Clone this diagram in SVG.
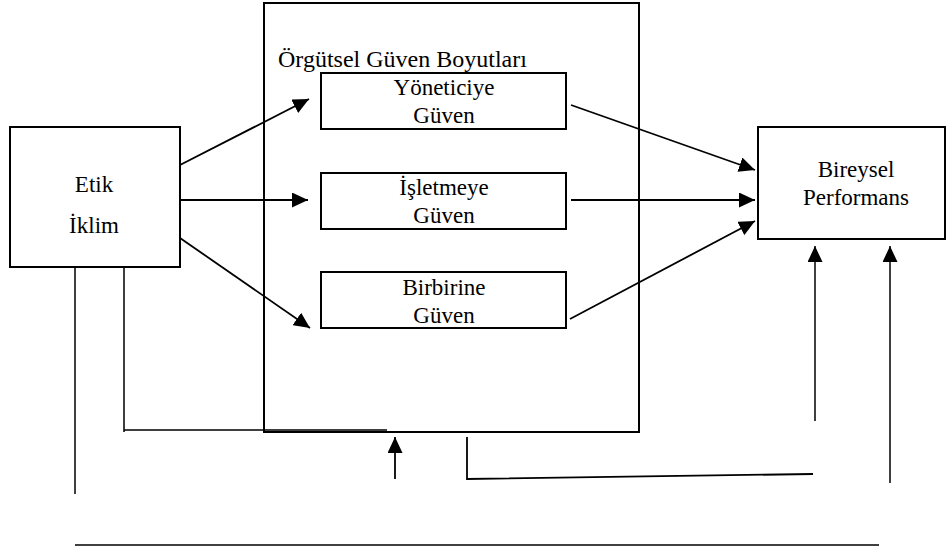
<svg xmlns="http://www.w3.org/2000/svg" width="946" height="549" viewBox="0 0 946 549">
<style>
.box{fill:#fff;stroke:#000;stroke-width:2}
.frame{fill:none;stroke:#000;stroke-width:2}
.ln{fill:none;stroke:#000;stroke-width:1.8}
.thin{fill:none;stroke:#000;stroke-width:1.5}
.t{font-family:'Liberation Serif','Times New Roman',serif;font-size:23px;fill:#000}
.c{text-anchor:middle}
</style>
<defs>
<marker id="ah" markerUnits="userSpaceOnUse" markerWidth="16" markerHeight="15" refX="16" refY="7.5" orient="auto">
<path d="M0,0 L16,7.5 L0,15 z" fill="#000"/>
</marker>
</defs>
<rect width="946" height="549" fill="#fff"/>
<g id="orgutsel-guven" font-family="Liberation Serif, serif">
<rect class="frame" x="264" y="3" width="375" height="429"/>
<text class="t" x="278" y="67" font-family="Liberation Serif, serif" style="font-size:24px">Örgütsel Güven Boyutları</text>
</g>
<g id="etik-iklim" font-family="Liberation Serif, serif">
<rect class="box" x="10" y="127" width="170" height="140"/>
<text class="t c" x="94" y="192" font-family="Liberation Serif, serif">Etik</text>
<text class="t c" x="94" y="233" font-family="Liberation Serif, serif">İklim</text>
</g>
<g id="yoneticiye" font-family="Liberation Serif, serif">
<rect class="box" x="321" y="73" width="245" height="56"/>
<text class="t c" x="444" y="95" font-family="Liberation Serif, serif">Yöneticiye</text>
<text class="t c" x="444" y="123" font-family="Liberation Serif, serif">Güven</text>
</g>
<g id="isletmeye" font-family="Liberation Serif, serif">
<rect class="box" x="321" y="173" width="245" height="56"/>
<text class="t c" x="444" y="195" font-family="Liberation Serif, serif">İşletmeye</text>
<text class="t c" x="444" y="223" font-family="Liberation Serif, serif">Güven</text>
</g>
<g id="birbirine" font-family="Liberation Serif, serif">
<rect class="box" x="321" y="272" width="245" height="56"/>
<text class="t c" x="444" y="295" font-family="Liberation Serif, serif">Birbirine</text>
<text class="t c" x="444" y="323" font-family="Liberation Serif, serif">Güven</text>
</g>
<g id="bireysel-performans" font-family="Liberation Serif, serif">
<rect class="box" x="758" y="127" width="187" height="112"/>
<text class="t c" x="856" y="177" font-family="Liberation Serif, serif">Bireysel</text>
<text class="t c" x="856" y="205" font-family="Liberation Serif, serif">Performans</text>
</g>
<g id="connectors">
<line class="ln" x1="180" y1="165" x2="309" y2="99" marker-end="url(#ah)"/>
<line class="ln" x1="180" y1="200" x2="308" y2="200" marker-end="url(#ah)"/>
<line class="ln" x1="180" y1="238" x2="310" y2="328" marker-end="url(#ah)"/>
<line class="ln" x1="571" y1="105" x2="755" y2="170" marker-end="url(#ah)"/>
<line class="ln" x1="571" y1="200" x2="755" y2="200" marker-end="url(#ah)"/>
<line class="ln" x1="570" y1="319" x2="755" y2="221" marker-end="url(#ah)"/>
<line class="thin" x1="75" y1="267" x2="75" y2="494"/>
<polyline class="thin" points="124,267 124,432 124,430 387,430"/>
<line class="ln" x1="395" y1="479" x2="395" y2="437" marker-end="url(#ah)"/>
<polyline class="ln" points="467,437 467,479 813,474"/>
<line class="thin" x1="815" y1="421" x2="815" y2="246" marker-end="url(#ah)"/>
<line class="thin" x1="890" y1="483" x2="890" y2="246" marker-end="url(#ah)"/>
<line class="thin" x1="75" y1="545" x2="879" y2="545"/>
</g>
</svg>
